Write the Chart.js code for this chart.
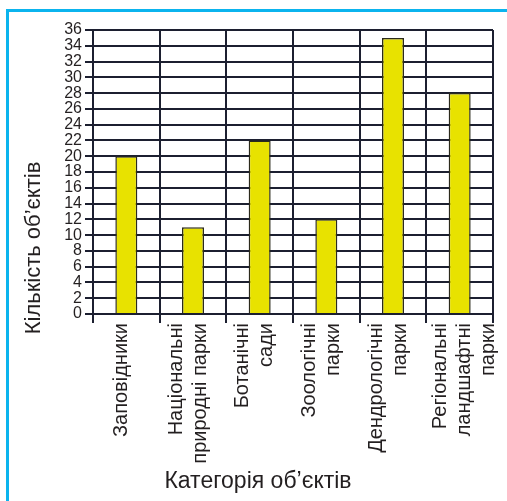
<!DOCTYPE html>
<html lang="uk">
<head>
    <meta charset="UTF-8">
    <title>Кількість об’єктів</title>
    <script src="https://cdn.jsdelivr.net/npm/chart.js@4"></script>
    <style>
        html, body { margin: 0; padding: 0; background: #ffffff; }
        #frame {
            position: absolute; left: 6px; top: 9px; width: 501px; height: 492px;
            border-top: 3px solid #0bb4ee; border-left: 3px solid #0bb4ee;
            box-sizing: border-box;
        }
        #wrap { position: absolute; left: 0; top: 0; width: 507px; height: 501px; }
    </style>
</head>
<body>
<div id="frame"></div>
<div id="wrap"><canvas id="chart" width="507" height="501"></canvas></div>
<script>
    // категорії (підписи по осі X)
    var categories = [
        'Заповідники',
        ['Національні', 'природні парки'],
        ['Ботанічні', 'сади'],
        ['Зоологічні', 'парки'],
        ['Дендрологічні', 'парки'],
        ['Регіональні', 'ландшафтні', 'парки']
    ];
    // кількість об'єктів
    var counts = [20, 11, 22, 12, 35, 28];
    // поділки осі Y
    var yTicks = [0, 2, 4, 6, 8, 10, 12, 14, 16, 18, 20, 22, 24, 26, 28, 30, 32, 34, 36];
    var xTitle = 'Категорія об’єктів';
    var yTitle = 'Кількість об’єктів';

    var ink = '#231f20';
    var gridInk = '#1c1f30';
    var fontFamily = '"Liberation Sans", Arial, sans-serif';

    // зсув підпису вліво залежно від кількості рядків (1, 2, 3 рядки)
    var lineShift = { 1: -5, 2: -17, 3: -19 };

    // підписи осей малюємо самі, бо в оригіналі вони зсунуті від центру
    var axisTitles = {
        id: 'axisTitles',
        beforeDraw: function(chart) {
            // Chart.js не центрує багаторядкові повернуті підписи, підсуваємо їх
            var items = chart.scales.x.getLabelItems();
            items.forEach(function(item) {
                if (item._shifted) return;
                var n = Array.isArray(item.label) ? item.label.length : 1;
                item.options.translation[0] += lineShift[n];
                item._shifted = true;
            });
        },
        afterDraw: function(chart) {
            var c = chart.ctx;
            c.save();
            c.fillStyle = ink;
            c.textAlign = 'center';
            c.textBaseline = 'alphabetic';
            c.font = '23px ' + fontFamily;
            c.fillText(xTitle, 258, 488);
            c.font = '22px ' + fontFamily;
            c.translate(40, 248);
            c.rotate(-Math.PI / 2);
            c.fillText(yTitle, 0, 0);
            c.restore();
        }
    };

    var ctx = document.getElementById('chart').getContext('2d');
    new Chart(ctx, {
        type: 'bar',
        data: {
            labels: categories,
            datasets: [{
                data: counts,
                backgroundColor: '#e8e200',
                borderColor: '#2b2a1c',
                borderWidth: 1.5,
                categoryPercentage: 1,
                barPercentage: 0.33
            }]
        },
        options: {
            responsive: false,
            animation: false,
            layout: { padding: { left: 14, top: 30, right: 14, bottom: 7 } },
            plugins: {
                legend: { display: false },
                tooltip: { enabled: false }
            },
            scales: {
                x: {
                    grid: { color: gridInk, lineWidth: 2, tickLength: 9, offset: true },
                    border: { color: gridInk, width: 2 },
                    ticks: {
                        color: ink,
                        font: { family: fontFamily, size: 20, lineHeight: 1.2 },
                        minRotation: 90,
                        maxRotation: 90,
                        autoSkip: false,
                        padding: 0
                    },
                    afterFit: function(scale) {
                        scale.height = 501 - 7 - 314;
                        scale.paddingLeft = 0;
                        scale.paddingRight = 0;
                    }
                },
                y: {
                    min: 0,
                    max: 36,
                    afterBuildTicks: function(scale) {
                        scale.ticks = yTicks.map(function(v) { return { value: v }; });
                    },
                    grid: { color: gridInk, lineWidth: 2, tickLength: 8 },
                    border: { color: gridInk, width: 2 },
                    ticks: {
                        color: ink,
                        font: { family: fontFamily, size: 16 },
                        padding: 3,
                        autoSkip: false
                    },
                    afterFit: function(scale) { scale.width = 93 - 14; }
                }
            }
        },
        plugins: [axisTitles]
    });
</script>
</body>
</html>
